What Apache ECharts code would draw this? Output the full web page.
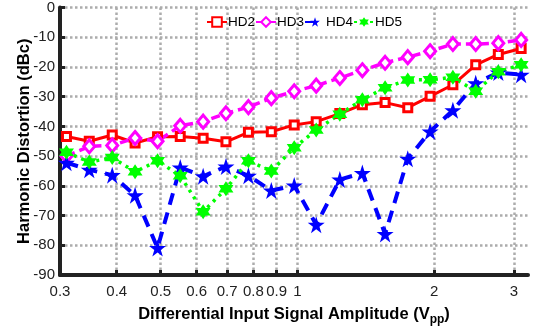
<!DOCTYPE html>
<html><head><meta charset="utf-8">
<script src="https://cdn.jsdelivr.net/npm/echarts@6/dist/echarts.min.js"></script>
<style>html,body{margin:0;padding:0;background:#fff}#c{width:534px;height:331px}</style>
</head><body><div id="c"></div>
<script>
var amplitude = [0.31, 0.348, 0.391, 0.439, 0.492, 0.552, 0.62, 0.696, 0.78, 0.876, 0.984, 1.10, 1.24, 1.39, 1.56, 1.75, 1.96, 2.20, 2.47, 2.77, 3.11];
var hd2 = [-43.4, -45.0, -42.9, -45.6, -43.5, -43.4, -44.0, -45.2, -42.0, -41.8, -39.5, -38.4, -35.7, -32.7, -32.0, -33.7, -29.9, -26.0, -19.3, -15.8, -13.8];
var hd3 = [-50.0, -46.7, -46.4, -43.9, -45.0, -39.8, -38.4, -35.6, -33.5, -30.5, -28.2, -26.3, -23.7, -21.1, -18.6, -16.7, -14.7, -12.3, -12.3, -12.0, -10.9];
var hd4 = [-52.2, -54.6, -56.4, -63.2, -80.9, -53.8, -56.8, -53.5, -56.6, -61.6, -59.9, -73.1, -57.9, -55.7, -76.2, -50.9, -41.7, -34.6, -25.5, -21.9, -22.6];
var hd5 = [-48.7, -52.0, -50.5, -55.3, -51.6, -56.6, -68.7, -61.0, -51.6, -55.0, -47.2, -41.2, -35.9, -31.0, -27.0, -24.4, -24.3, -23.5, -28.2, -21.6, -19.3];
var xTicks = [0.3, 0.4, 0.5, 0.6, 0.7, 0.8, 0.9, 1, 2, 3];
var seriesNames = ['HD2', 'HD3', 'HD4', 'HD5'];

function pairs(ys){ return ys.map(function(y,i){ return [amplitude[i], y]; }); }
var PENTA = 'path://M50,0 L61.2,34.5 L97.6,34.5 L68.2,55.9 L79.4,90.5 L50,69.1 L20.6,90.5 L31.8,55.9 L2.4,34.5 L38.8,34.5 Z';
var HEXA = 'path://M50,0 L64.4,25 L93.3,25 L78.9,50 L93.3,75 L64.4,75 L50,100 L35.6,75 L6.7,75 L21.1,50 L6.7,25 L35.6,25 Z';
var FONT = '"Liberation Sans", Arial, sans-serif';
var grid = {type:'dotted', width:2.5, color:'#acacac'};

var chart = echarts.init(document.getElementById('c'), null, {renderer:'canvas'});
chart.setOption({
  animation:false,
  backgroundColor:'#fff',
  grid:{left:60, right:6, top:5.5, bottom:53.3, containLabel:false},
  legend:{
    left:201, top:10, itemWidth:20, itemHeight:12, itemGap:0,
    textStyle:{fontFamily:FONT, fontSize:13.5, color:'#000', padding:[0,0,0,-4]},
    data:seriesNames
  },
  xAxis:{
    type:'log', logBase:10, min:0.3, max:3.22,
    axisLine:{show:true, onZero:false, lineStyle:{color:'#222', width:4}},
    axisTick:{show:true, inside:true, length:5, lineStyle:{color:'#222', width:3}, customValues:xTicks},
    axisLabel:{customValues:xTicks, margin:9, fontFamily:FONT, fontSize:15, color:'#222',
      formatter:function(v){ return String(+v.toPrecision(3)); }},
    splitLine:{show:true, lineStyle:grid},
    minorTick:{show:false}, minorSplitLine:{show:false},
    name:'{a|Differential Input Signal Amplitude (V}{s|pp}{a|)}',
    nameLocation:'middle', nameGap:28, nameMoveOverlap:false,
    nameTextStyle:{rich:{
      a:{fontFamily:FONT, fontSize:16.5, fontWeight:'bold', color:'#000'},
      s:{fontFamily:FONT, fontSize:12, fontWeight:'bold', color:'#000', padding:[11,0,0,0]}
    }}
  },
  yAxis:{
    type:'value', min:-90, max:0, interval:10,
    axisLine:{show:true, onZero:false, lineStyle:{color:'#222', width:4}},
    axisTick:{show:true, inside:true, length:5, lineStyle:{color:'#222', width:3}},
    axisLabel:{margin:5, fontFamily:FONT, fontSize:15, color:'#222'},
    splitLine:{show:true, lineStyle:grid},
    name:'Harmonic Distortion (dBc)', nameLocation:'middle', nameGap:27, nameMoveOverlap:false,
    nameTextStyle:{fontFamily:FONT, fontSize:16.5, fontWeight:'bold', color:'#000'}
  },
  series:[
    {name:'HD2', type:'line', data:pairs(hd2), symbol:'rect', symbolSize:8,
      lineStyle:{color:'#ff0000', width:3, type:'solid'},
      itemStyle:{color:'#fff', borderColor:'#ff0000', borderWidth:3}},
    {name:'HD3', type:'line', data:pairs(hd3), symbol:'diamond', symbolSize:[11,13],
      lineStyle:{color:'#ff00ff', width:3.5, type:[9,5]},
      itemStyle:{color:'#fff', borderColor:'#ff00ff', borderWidth:3}},
    {name:'HD4', type:'line', data:pairs(hd4), symbol:PENTA, symbolSize:17,
      lineStyle:{color:'#0000ff', width:4, type:[12,8]},
      itemStyle:{color:'#0000ff'}},
    {name:'HD5', type:'line', data:pairs(hd5), symbol:HEXA, symbolSize:15,
      lineStyle:{color:'#00ff00', width:3.5, type:[3,5]},
      itemStyle:{color:'#00ff00'}}
  ]
});
</script></body></html>
